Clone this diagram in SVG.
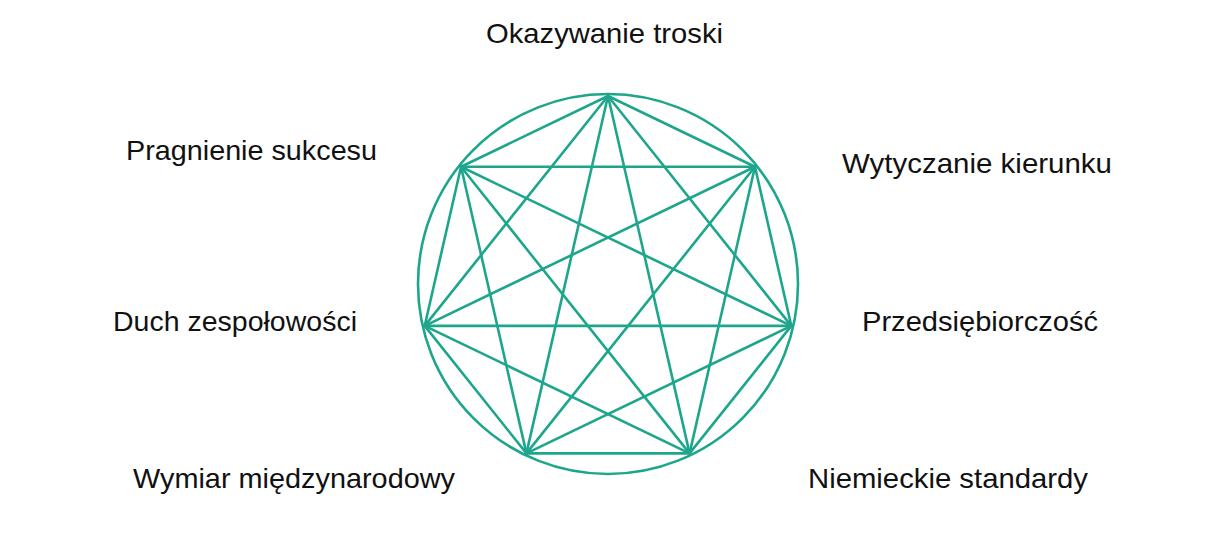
<svg xmlns="http://www.w3.org/2000/svg" width="1226" height="539" viewBox="0 0 1226 539">
<style>
.lbl{font-family:"Liberation Sans",Arial,sans-serif;font-size:28px;fill:#111;}
.ln{stroke:#1ea68c;stroke-width:2.6;fill:none;stroke-linecap:round;}
</style>
<rect width="1226" height="539" fill="#fff"/>
<g id="connectors">
<circle class="ln" cx="608" cy="284" r="190"/>
<line class="ln" x1="608" y1="96" x2="754.98" y2="166.78"/>
<line class="ln" x1="608" y1="96" x2="791.28" y2="325.83"/>
<line class="ln" x1="608" y1="96" x2="689.57" y2="453.39"/>
<line class="ln" x1="608" y1="96" x2="526.43" y2="453.39"/>
<line class="ln" x1="608" y1="96" x2="424.72" y2="325.83"/>
<line class="ln" x1="608" y1="96" x2="461.02" y2="166.78"/>
<line class="ln" x1="754.98" y1="166.78" x2="791.28" y2="325.83"/>
<line class="ln" x1="754.98" y1="166.78" x2="689.57" y2="453.39"/>
<line class="ln" x1="754.98" y1="166.78" x2="526.43" y2="453.39"/>
<line class="ln" x1="754.98" y1="166.78" x2="424.72" y2="325.83"/>
<line class="ln" x1="754.98" y1="166.78" x2="461.02" y2="166.78"/>
<line class="ln" x1="791.28" y1="325.83" x2="689.57" y2="453.39"/>
<line class="ln" x1="791.28" y1="325.83" x2="526.43" y2="453.39"/>
<line class="ln" x1="791.28" y1="325.83" x2="424.72" y2="325.83"/>
<line class="ln" x1="791.28" y1="325.83" x2="461.02" y2="166.78"/>
<line class="ln" x1="689.57" y1="453.39" x2="526.43" y2="453.39"/>
<line class="ln" x1="689.57" y1="453.39" x2="424.72" y2="325.83"/>
<line class="ln" x1="689.57" y1="453.39" x2="461.02" y2="166.78"/>
<line class="ln" x1="526.43" y1="453.39" x2="424.72" y2="325.83"/>
<line class="ln" x1="526.43" y1="453.39" x2="461.02" y2="166.78"/>
<line class="ln" x1="424.72" y1="325.83" x2="461.02" y2="166.78"/>
</g>
<g id="node-okazywanie"><text class="lbl" x="486" y="43" textLength="237" lengthAdjust="spacingAndGlyphs">Okazywanie troski</text></g>
<g id="node-wytyczanie"><text class="lbl" x="842" y="173" textLength="270" lengthAdjust="spacingAndGlyphs">Wytyczanie kierunku</text></g>
<g id="node-przedsiebiorczosc"><text class="lbl" x="862" y="331" textLength="236" lengthAdjust="spacingAndGlyphs">Przedsiębiorczość</text></g>
<g id="node-niemieckie"><text class="lbl" x="808" y="488" textLength="280" lengthAdjust="spacingAndGlyphs">Niemieckie standardy</text></g>
<g id="node-wymiar"><text class="lbl" x="133" y="488" textLength="322" lengthAdjust="spacingAndGlyphs">Wymiar międzynarodowy</text></g>
<g id="node-duch"><text class="lbl" x="113" y="331" textLength="244" lengthAdjust="spacingAndGlyphs">Duch zespołowości</text></g>
<g id="node-pragnienie"><text class="lbl" x="126" y="160" textLength="251" lengthAdjust="spacingAndGlyphs">Pragnienie sukcesu</text></g>
</svg>
